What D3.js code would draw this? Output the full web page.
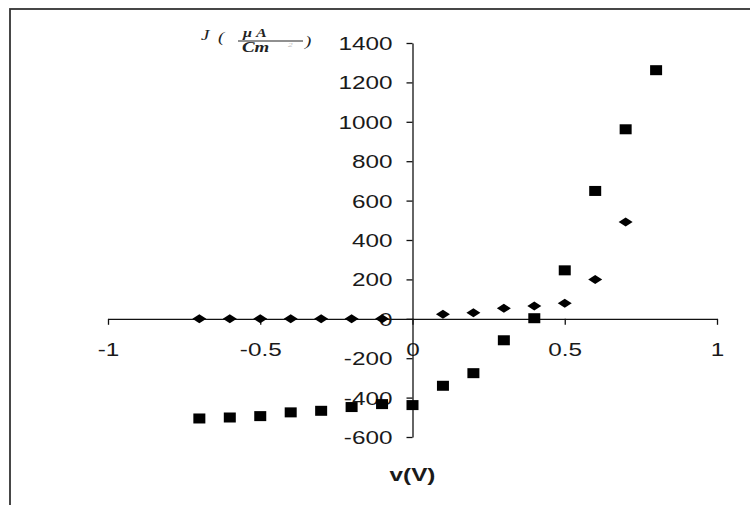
<!DOCTYPE html>
<html>
<head>
<meta charset="utf-8">
<script src="https://cdn.jsdelivr.net/npm/d3@7"></script>
<style>
  html, body { margin: 0; padding: 0; background: #fff; }
  svg { display: block; }
  text { font-family: "Liberation Sans", Arial, sans-serif; fill: #1a1a1a; }
</style>
</head>
<body>
<svg id="chart" width="750" height="505"></svg>
<script>
// Current density J (µA/cm²) against applied voltage v (V), two devices
const voltsA   = [-0.7, -0.6, -0.5, -0.4, -0.3, -0.2, -0.1, 0.1, 0.2, 0.3, 0.4, 0.5, 0.6, 0.7];
const currentA = [0, 0, 0, 0, 0, 0, 0, 23, 31, 53, 65, 79, 200, 491];

const voltsB   = [-0.7, -0.6, -0.5, -0.4, -0.3, -0.2, -0.1, 0, 0.1, 0.2, 0.3, 0.4, 0.5, 0.6, 0.7, 0.8];
const currentB = [-506, -501, -494, -475, -467, -448, -433, -438, -340, -276, -109, 3, 246, 649, 962, 1262];

const xTicks = [-1, -0.5, 0, 0.5, 1];
const yTicks = [-600, -400, -200, 0, 200, 400, 600, 800, 1000, 1200, 1400];
const xTitle = "v(V)";

const svg = d3.select("#chart");
const stretch = 1.35;   // glyphs are drawn wide, like the rest of the plot

// chart frame
svg.append("rect")
  .attr("x", 10).attr("y", 9)
  .attr("width", 800).attr("height", 600)
  .attr("fill", "none").attr("stroke", "#333").attr("stroke-width", 1.8);

const x = d3.scaleLinear().domain([-1, 1]).range([108, 717]);
const y = d3.scaleLinear().domain([-600, 1400]).range([437, 43]);

// x axis through J = 0
const gx = svg.append("g")
  .attr("transform", `translate(0,${y(0)})`)
  .call(d3.axisBottom(x).tickValues(xTicks).tickSize(6).tickSizeOuter(0)
    .tickFormat(d => String(d)));
gx.select(".domain").attr("stroke", "#111").attr("stroke-width", 1.3);
gx.selectAll(".tick line").attr("stroke", "#111").attr("stroke-width", 1.3);
gx.selectAll(".tick text")
  .attr("x", 0).attr("y", 24).attr("dy", "0.71em")
  .attr("font-size", 18)
  .attr("transform", `scale(${stretch},1)`);

// y axis through v = 0
const gy = svg.append("g")
  .attr("transform", `translate(${x(0)},0)`)
  .call(d3.axisLeft(y).tickValues(yTicks).tickSize(6).tickSizeOuter(0)
    .tickFormat(d => String(d)));
gy.select(".domain").attr("stroke", "#111").attr("stroke-width", 1.3);
gy.selectAll(".tick line").attr("stroke", "#111").attr("stroke-width", 1.3);
gy.selectAll(".tick text")
  .attr("x", -20 / stretch)
  .attr("dy", "0.36em")
  .attr("font-size", 18)
  .attr("transform", `scale(${stretch},1)`);

// series B: filled squares
svg.append("g").selectAll("rect")
  .data(voltsB.map((v, i) => [v, currentB[i]]))
  .join("rect")
  .attr("x", d => x(d[0]) - 6)
  .attr("y", d => y(d[1]) - 5)
  .attr("width", 12).attr("height", 10)
  .attr("fill", "#000");

// series A: filled diamonds
const diamond = "M-7,0L0,-4.5L7,0L0,4.5Z";
svg.append("g").selectAll("path")
  .data(voltsA.map((v, i) => [v, currentA[i]]))
  .join("path")
  .attr("d", diamond)
  .attr("transform", d => `translate(${x(d[0])},${y(d[1])})`)
  .attr("fill", "#000");

// x axis title
svg.append("text")
  .attr("transform", `translate(${x(0)},481) scale(${stretch},1)`)
  .attr("text-anchor", "middle")
  .attr("font-size", 18).attr("font-weight", "bold")
  .text(xTitle);

// y axis title: J ( µA / Cm² ), small serif italic glyphs, widened
const serif = "'Liberation Serif', 'Times New Roman', serif";
function titlePart(px, py, size, str, opts = {}) {
  svg.append("text")
    .attr("transform", `translate(${px},${py}) scale(${stretch},1)`)
    .attr("font-size", size)
    .attr("font-style", "italic")
    .attr("font-weight", opts.bold ? "bold" : "normal")
    .style("font-family", serif)
    .style("fill", opts.fill || "#222")
    .text(str);
}
titlePart(201, 40, 14, "J");
titlePart(218, 42, 14, "(");
titlePart(243, 37, 12, "\u03bc A", { bold: true });
svg.append("line").attr("x1", 238).attr("x2", 303).attr("y1", 41).attr("y2", 41)
  .attr("stroke", "#222").attr("stroke-width", 1.2);
titlePart(242, 52, 14, "Cm", { bold: true });
titlePart(288, 47, 7, "2", { fill: "#bbb" });
titlePart(305, 46, 14, ")");
</script>
</body>
</html>
